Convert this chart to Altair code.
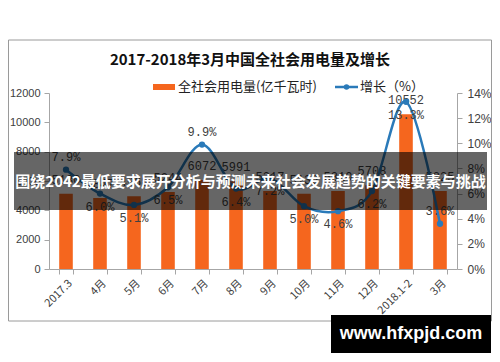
import altair as alt
import pandas as pd

# ---- data ----
categories = ["2017.3", "4月", "5月", "6月", "7月", "8月", "9月", "10月", "11月", "12月", "2018.1-2", "3月"]
power = [5130, 4847, 4968, 5244, 6072, 5991, 5317, 5136, 5310, 5708, 10552, 5325]
growth = [7.9, 6.0, 5.1, 6.5, 9.9, 6.4, 7.2, 5.0, 4.6, 6.2, 13.3, 3.6]
power_ticks = [0, 2000, 4000, 6000, 8000, 10000, 12000]
growth_ticks = [0, 2, 4, 6, 8, 10, 12, 14]
title_text = "2017-2018年3月中国全社会用电量及增长"
legend_labels = ["全社会用电量(亿千瓦时)", "增长（%）"]
banner_text = "围绕2042最低要求展开分析与预测未来社会发展趋势的关键要素与挑战"
site_text = "www.hfxpjd.com"

# label placement of the growth labels (style, not data)
label_side = ["above", "below", "below", "below", "above", "below",
              "below", "below", "below", "below", "below", "above"]

ORANGE = "#F5661E"
BLUE = "#2A7AB9"
GRAY = "#A6A6A6"
TXT = "#404040"

df = pd.DataFrame({
    "cat": categories,
    "power": power,
    "growth": growth,
    "side": label_side,
    "pct": [f"{g:.1f}%" for g in growth],
})
one = pd.DataFrame({"k": [0]})

x_enc = alt.X(
    "cat:N", sort=categories,
    scale=alt.Scale(paddingInner=0.6, paddingOuter=0.3),
    axis=alt.Axis(title=None, labelAngle=-45, labelAlign="right", labelBaseline="top",
                  labelFont="Noto Sans CJK SC", labelFontSize=11, labelColor=TXT,
                  labelPadding=3, domainColor=GRAY, tickColor=GRAY, tickSize=5,
                  tickBand="extent"),
)
y_left = alt.Y(
    "power:Q", scale=alt.Scale(domain=[0, 12000]),
    axis=alt.Axis(title=None, values=power_ticks, format="d", grid=False,
                  labelFont="Liberation Sans", labelFontSize=11, labelColor=TXT,
                  domainColor=GRAY, tickColor=GRAY, tickSize=5, labelPadding=4),
)
y_right = alt.Y(
    "growth:Q", scale=alt.Scale(domain=[0, 14]),
    axis=alt.Axis(title=None, orient="right", values=growth_ticks, grid=False,
                  labelExpr="datum.value + '%'", labelFont="Liberation Sans",
                  labelFontSize=12, labelColor=TXT, domainColor=GRAY, tickColor=GRAY,
                  tickSize=5, labelPadding=5),
)

# ---- decorations (pixel positions relative to the plot area) ----
frame = alt.Chart(one).mark_rect(fillOpacity=0, stroke="#9A9A9A", strokeWidth=1).encode(
    x=alt.value(-40.5), x2=alt.value(442.5), y=alt.value(-53), y2=alt.value(228))
title = alt.Chart(one).mark_text(font="Noto Sans CJK SC", fontSize=15, fontWeight="bold",
                                 color="#111111").encode(
    x=alt.value(201), y=alt.value(-33), text=alt.value(title_text))
leg_rect = alt.Chart(one).mark_rect(color=ORANGE).encode(
    x=alt.value(104), x2=alt.value(126), y=alt.value(-9), y2=alt.value(-3))
leg_t1 = alt.Chart(one).mark_text(align="left", font="Noto Sans CJK SC", fontSize=13,
                                  color="#222222").encode(
    x=alt.value(129), y=alt.value(-6), text=alt.value(legend_labels[0]))
leg_line = alt.Chart(one).mark_rule(color=BLUE, strokeWidth=2.5).encode(
    x=alt.value(286), x2=alt.value(309), y=alt.value(-6))
leg_dot = alt.Chart(one).mark_circle(color=BLUE, size=30, opacity=1).encode(
    x=alt.value(297.5), y=alt.value(-6))
leg_t2 = alt.Chart(one).mark_text(align="left", font="Noto Sans CJK SC", fontSize=13,
                                  color="#222222").encode(
    x=alt.value(311), y=alt.value(-6), text=alt.value(legend_labels[1]))

banner = alt.Chart(one).mark_rect(color="#000000", opacity=0.6).encode(
    x=alt.value(-35), x2=alt.value(438), y=alt.value(59), y2=alt.value(117))
banner_t = alt.Chart(one).mark_text(font="Noto Sans CJK SC", fontSize=15, fontWeight="bold",
                                    color="#FFFFFF").encode(
    x=alt.value(201.5), y=alt.value(89), text=alt.value(banner_text))
site_box = alt.Chart(one).mark_rect(color="#000000").encode(
    x=alt.value(282), x2=alt.value(442), y=alt.value(222), y2=alt.value(260))
site_t = alt.Chart(one).mark_text(font="Liberation Sans", fontSize=18, fontWeight="bold",
                                  color="#FFFFFF").encode(
    x=alt.value(362), y=alt.value(241), text=alt.value(site_text))

# ---- data marks ----
base = alt.Chart(df)
bars = base.mark_bar(color=ORANGE).encode(x=x_enc, y=y_left)
bar_labels = base.mark_text(dy=-7, baseline="bottom", font="Liberation Mono", fontSize=12,
                            color=TXT).encode(x=x_enc, y=y_left,
                                              text=alt.Text("power:Q", format="d"))

line = base.mark_line(color=BLUE, strokeWidth=2.5, interpolate="cardinal").encode(
    x=x_enc, y=y_right)
points = base.mark_circle(color=BLUE, size=40, opacity=1).encode(x=x_enc, y=y_right)
lab_above = base.transform_filter("datum.side == 'above'").mark_text(
    dy=-13, font="Liberation Mono", fontSize=12, color=TXT).encode(
    x=x_enc, y=y_right, text="pct:N")
lab_below = base.transform_filter("datum.side == 'below'").mark_text(
    dy=13, font="Liberation Mono", fontSize=12, color=TXT).encode(
    x=x_enc, y=y_right, text="pct:N")

left = alt.layer(frame, title, leg_rect, leg_t1, leg_line, leg_dot, leg_t2, bars, bar_labels)
right = alt.layer(line, points, lab_above, lab_below, banner, banner_t, site_box, site_t)

chart = alt.layer(left, right).resolve_scale(y="independent").properties(
    width=408, height=176,
    autosize=alt.AutoSizeParams(type="none"),
    padding={"left": 41, "top": 85, "right": 35, "bottom": 85},
    background="#FFFFFF",
).configure_view(stroke=None)

chart.save("out.html", embed_options={"renderer": "svg", "actions": False})
